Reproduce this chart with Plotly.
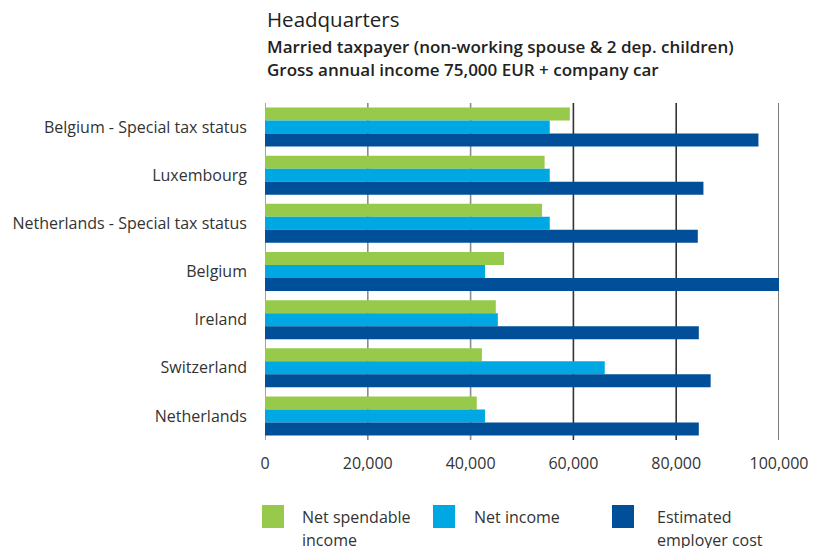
import plotly.graph_objects as go

categories = ["Belgium - Special tax status", "Luxembourg", "Netherlands - Special tax status",
              "Belgium", "Ireland", "Switzerland", "Netherlands"]
net_spendable = [59300, 54400, 53900, 46500, 44900, 42200, 41200]
net_income = [55400, 55400, 55400, 42800, 45300, 66100, 42800]
employer_cost = [96000, 85300, 84200, 100000, 84400, 86700, 84400]
series_names = [["Net spendable", "income"], ["Net income"], ["Estimated", "employer cost"]]
series_colors = ["#97C94A", "#00A8E3", "#004F98"]
x_ticks = [0, 20000, 40000, 60000, 80000, 100000]
grid_colors = ["#8c8c8c", "#8c8c8c", "#8c8c8c", "#333333", "#333333", "#5a5a5a"]

FONT = "Open Sans"
OFF = 8  # page body margin
W, H = 829 - OFF, 548 - OFF
# reference-frame pixel positions of the plot area
L, R, T, B = 265, 779, 103, 440


def px(x):
    return (x - L) / (R - L)


def py(y):
    return (B - y) / (B - T)


fig = go.Figure()
for name, vals, col in zip(series_names, [net_spendable, net_income, employer_cost], series_colors):
    fig.add_trace(go.Bar(y=categories, x=vals, orientation="h", name=" ".join(name),
                         marker=dict(color=col, line=dict(width=0)), showlegend=False))

fig.update_layout(
    width=W, height=H,
    margin=dict(l=L - OFF, r=829 - R, t=T - OFF, b=548 - B, pad=0, autoexpand=False),
    paper_bgcolor="white", plot_bgcolor="white",
    barmode="group", bargap=0.19, bargroupgap=0,
    font=dict(family=FONT, size=16, color="#333333"),
)
fig.update_xaxes(range=[0, 100000], tickvals=x_ticks, tickformat=",", showgrid=False,
                 zeroline=False, showline=False, ticks="", ticklabelstandoff=12, automargin=False,
                 tickfont=dict(family=FONT, size=16, color="#333333"))
fig.update_yaxes(autorange="reversed", showgrid=False, ticks="", ticklabelstandoff=17, automargin=False,
                 tickfont=dict(family=FONT, size=16, color="#333333"))

# vertical grid lines at tick values, drawn behind the bars
for tv, gc in zip(x_ticks, grid_colors):
    fig.add_shape(type="line", xref="x", yref="paper", x0=tv, x1=tv, y0=0, y1=1,
                  line=dict(color=gc, width=1.6), layer="below")

# Titles
fig.add_annotation(text="Headquarters", xref="paper", yref="paper", x=0, xanchor="left",
                   y=py(19), yanchor="middle", showarrow=False,
                   font=dict(family=FONT, size=20.5, color="#222222"))
fig.add_annotation(text="Married taxpayer (non-working spouse &amp; 2 dep. children)", xref="paper", yref="paper",
                   x=0, xanchor="left", y=py(46), yanchor="middle", showarrow=False,
                   font=dict(family=FONT, size=17, color="#222222", weight=600))
fig.add_annotation(text="Gross annual income 75,000 EUR + company car", xref="paper", yref="paper",
                   x=0, xanchor="left", y=py(69), yanchor="middle", showarrow=False,
                   font=dict(family=FONT, size=17, color="#222222", weight=600))

# Legend
sq_x = [262, 433, 612]
txt_x = [300, 472, 655]
for lines, col, sx, tx in zip(series_names, series_colors, sq_x, txt_x):
    fig.add_shape(type="rect", xref="paper", yref="paper", x0=px(sx), x1=px(sx + 22),
                  y0=py(528), y1=py(505), fillcolor=col, line=dict(width=0))
    for i, line in enumerate(lines):
        fig.add_annotation(text=line, xref="paper", yref="paper", x=px(tx), xanchor="left",
                           y=py(517 + 23 * i), yanchor="middle", align="left", showarrow=False,
                           font=dict(family=FONT, size=16, color="#333333"))

fig.write_html("out.html")
